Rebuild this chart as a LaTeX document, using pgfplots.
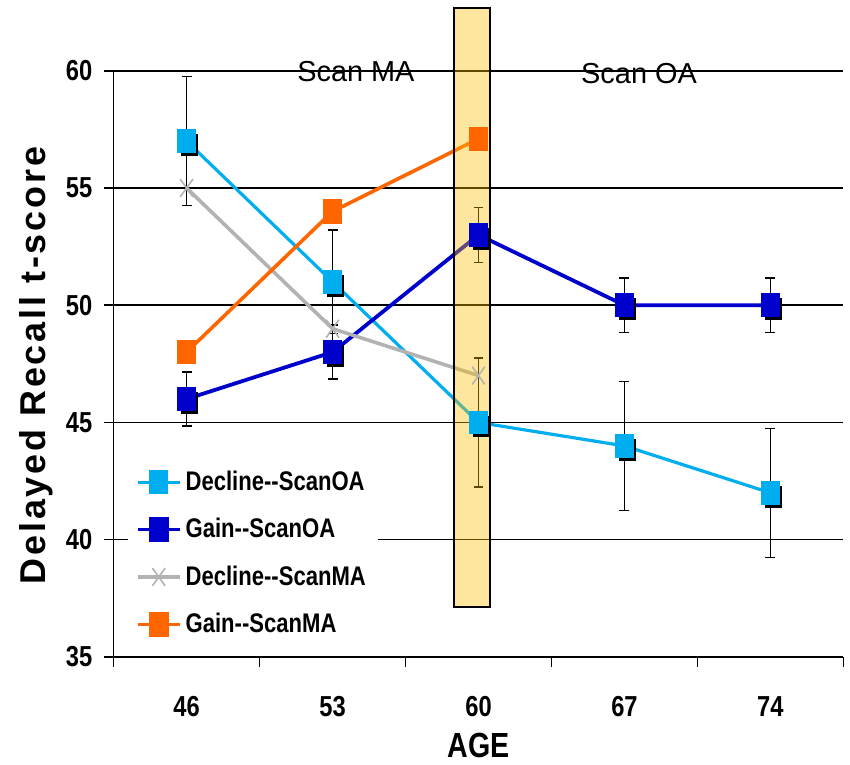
\documentclass[border=0pt]{standalone}
\usepackage{pgfplots}
\pgfplotsset{compat=1.18}
\usepackage{pgfplotstable}
\usepackage{fontspec}
\setmainfont{Liberation Sans}
\newfontfamily\narrowfont[FakeStretch=0.82]{Liberation Sans}
\newfontfamily\spacedfont[LetterSpace=8]{Liberation Sans}

\definecolor{declOA}{RGB}{0,174,239}
\definecolor{gainOA}{RGB}{0,0,204}
\definecolor{declMA}{RGB}{178,178,178}
\definecolor{gainMA}{RGB}{255,102,0}
\definecolor{bandfill}{RGB}{255,190,0}

% age index: 0=46, 1=53, 2=60, 3=67, 4=74
\pgfplotstableread{
x y err
0 57 2.75
1 51 2.2
2 45 2.75
3 44 2.75
4 42 2.75
}\declineOA
\pgfplotstableread{
x y err
0 46 1.15
1 48 1.15
2 53 1.17
3 50 1.17
4 50 1.17
}\gainOA
\pgfplotstableread{
x y
0 55
1 49
2 47
}\declineMA
\pgfplotstableread{
x y
0 48
1 54
2 57.1
}\gainMA

\begin{document}
\begin{tikzpicture}
\begin{axis}[
  scale only axis, width=366pt, height=294pt,
  xmin=-0.5, xmax=4.5, ymin=35, ymax=60,
  clip=false,
  axis x line*=bottom, axis y line*=left,
  axis line style={black, line width=0.75pt, -},
  tick align=outside,
  major tick length=5pt,
  tick style={black, line width=0.75pt},
  xtick={-0.5,0.5,1.5,2.5,3.5,4.5},
  xticklabels={,,,,,},
  extra x ticks={0,1,2,3,4},
  extra x tick labels={46,53,60,67,74},
  extra x tick style={major tick length=0pt},
  xticklabel style={yshift=-16.2pt},
  ytick={35,40,...,60},
  yticklabel style={xshift=-2.2pt},
  ymajorgrids, grid style={black, line width=0.75pt},
  /pgf/number format/assume math mode=true,
  tick label style={font=\narrowfont\bfseries\fontsize{14.5}{16}\selectfont},
  xlabel={AGE},
  xlabel style={at={(axis description cs:0.5,-0.1514)}, anchor=center,
    font=\narrowfont\bfseries\fontsize{17.5}{20}\selectfont},
  ylabel={Delayed Recall t-score},
  ylabel style={at={(axis description cs:-0.1066,0.497)}, anchor=center,
    font=\spacedfont\bfseries\fontsize{18}{20}\selectfont},
  legend cell align=left,
  legend style={at={(axis description cs:0.0191,0.3385)}, anchor=north west,
    fill=white, draw=none, inner xsep=4pt, inner ysep=4pt, row sep=8.5pt,
    font=\narrowfont\bfseries\fontsize{13.5}{15}\selectfont},
  legend image code/.code={
    \draw[mark repeat=2, mark phase=2, #1] plot coordinates {(0pt,0pt) (10.5pt,0pt) (21pt,0pt)};
  },
  error bars/error bar style={black, line width=0.75pt},
  error bars/error mark options={rotate=90, black, mark size=2.5pt, line width=0.75pt},
]

% offset black shadows behind the square markers
\addplot [forget plot, only marks, mark=square*, black, mark size=4pt,
  mark options={xshift=1.5pt, yshift=-2pt, yscale=1.3}] table[x=x, y=y] {\declineOA};
\addplot [forget plot, only marks, mark=square*, black, mark size=4pt,
  mark options={xshift=1.5pt, yshift=-2pt, yscale=1.3}] table[x=x, y=y] {\gainOA};

\addplot [declOA, line width=1.6pt, mark=square*, mark size=4pt,
  mark options={yscale=1.3, draw=declOA, fill=declOA},
  error bars/.cd, y dir=both, y explicit]
  table[x=x, y=y, y error=err] {\declineOA};
\addlegendentry{Decline-\kern0pt-ScanOA}

\addplot [gainOA, line width=1.9pt, mark=square*, mark size=4pt,
  mark options={yscale=1.3, draw=gainOA, fill=gainOA},
  error bars/.cd, y dir=both, y explicit]
  table[x=x, y=y, y error=err] {\gainOA};
\addlegendentry{Gain-\kern0pt-ScanOA}

\addplot [declMA, line width=1.8pt, mark=x, mark size=4.5pt,
  mark options={yscale=1.4, line width=0.8pt, draw=declMA}]
  table[x=x, y=y] {\declineMA};
\addlegendentry{Decline-\kern0pt-ScanMA}

\addplot [gainMA, line width=1.8pt, mark=square*, mark size=4pt,
  mark options={yscale=1.3, draw=gainMA, fill=gainMA}]
  table[x=x, y=y] {\gainMA};
\addlegendentry{Gain-\kern0pt-ScanMA}

% highlighted band at age 60
\fill[bandfill, fill opacity=0.38] (axis cs:1.83,37.13) rectangle (axis cs:2.077,62.68);
\draw[black, line width=1pt] (axis cs:1.83,37.13) rectangle (axis cs:2.077,62.68);

\node[font=\fontsize{14.5}{16}\selectfont] at (axis cs:1.16,59.95) {Scan MA};
\node[font=\fontsize{14.5}{16}\selectfont] at (axis cs:3.10,59.9) {Scan OA};

% overall extent of the figure
\path (axis description cs:-0.15574,-0.18197) rectangle (axis description cs:1.00546,1.12075);
\end{axis}
\end{tikzpicture}
\end{document}
